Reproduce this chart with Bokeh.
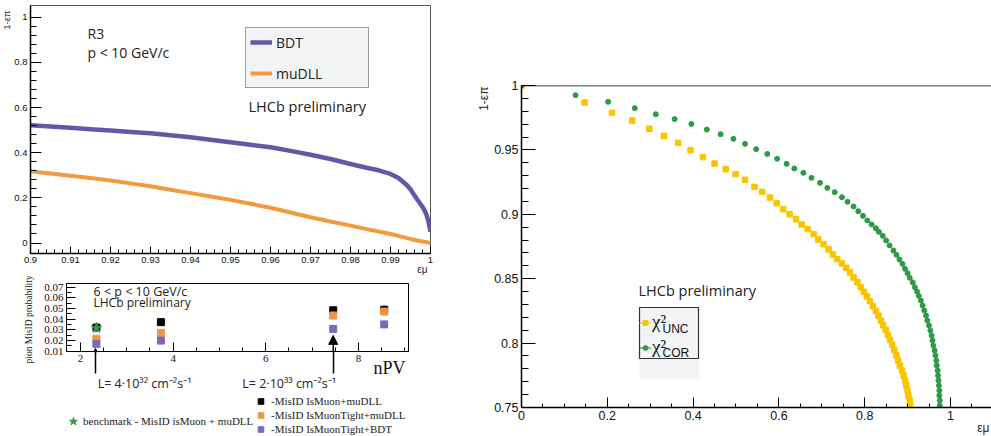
import numpy as np
from bokeh.plotting import figure
from bokeh.layouts import row, column
from bokeh.models import (Range1d, FixedTicker, CustomJSTickFormatter, Label, Legend,
                          LegendItem, BoxAnnotation, Span, Arrow, NormalHead, Title, LinearAxis)
from bokeh.embed import file_html
from bokeh.resources import INLINE

# ---------------- data: top-left panel (R3, p < 10 GeV/c) ----------------
eff_mu_bdt = [0.900, 0.905, 0.910, 0.915, 0.920, 0.925, 0.930, 0.935, 0.940, 0.945,
              0.950, 0.955, 0.960, 0.965, 0.970, 0.975, 0.980, 0.984, 0.987, 0.990,
              0.992, 0.994, 0.995, 0.996, 0.997, 0.998, 0.9985, 0.999, 0.9995, 1.000]
rej_bdt = [0.521, 0.516, 0.510, 0.504, 0.498, 0.492, 0.486, 0.477, 0.468, 0.457,
           0.446, 0.435, 0.424, 0.408, 0.391, 0.372, 0.350, 0.333, 0.322, 0.306,
           0.288, 0.258, 0.238, 0.210, 0.185, 0.160, 0.145, 0.125, 0.095, 0.050]
eff_mu_dll = [0.900, 0.905, 0.910, 0.915, 0.920, 0.925, 0.930, 0.935, 0.940, 0.945,
              0.950, 0.955, 0.960, 0.965, 0.970, 0.975, 0.980, 0.985, 0.990, 0.993,
              0.995, 0.997, 0.999, 1.000]
rej_dll = [0.318, 0.308, 0.298, 0.288, 0.277, 0.264, 0.251, 0.236, 0.221, 0.206,
           0.191, 0.174, 0.156, 0.135, 0.114, 0.095, 0.077, 0.058, 0.040, 0.027,
           0.018, 0.010, 0.004, 0.000]
x1_ticks = [0.9, 0.91, 0.92, 0.93, 0.94, 0.95, 0.96, 0.97, 0.98, 0.99, 1]
y1_ticks = [0, 0.2, 0.4, 0.6, 0.8, 1]

# ---------------- data: bottom-left panel (6 < p < 10 GeV/c) ----------------
npv = [2.344, 3.736, 7.455, 8.555]
mis_ismuon_dll = [0.0320, 0.0371, 0.0482, 0.0487]
mis_ismuon_dll_err = [0.0010, 0.0010, 0.0015, 0.0040]
mis_tight_dll = [0.0214, 0.0270, 0.0433, 0.0470]
mis_tight_dll_err = [0.0010, 0.0010, 0.0015, 0.0040]
mis_tight_bdt = [0.0168, 0.0198, 0.0308, 0.0350]
mis_tight_bdt_err = [0.0010, 0.0010, 0.0012, 0.0035]
bench_npv = [2.344]
bench_mis = [0.0317]
lumi_npv = [2.324, 7.455]
lumi_arrow_tip = [0.0125, 0.0247]
lumi_labels = ["L= 4\u00b710\u00b3\u00b2 cm\u207b\u00b2s\u207b\u00b9",
               "L= 2\u00b710\u00b3\u00b3 cm\u207b\u00b2s\u207b\u00b9"]
x2_ticks = [2, 4, 6, 8]
y2_ticks = [0.01, 0.02, 0.03, 0.04, 0.05, 0.06, 0.07]
legend2_labels = ["-MisID IsMuon+muDLL", "-MisID IsMuonTight+muDLL", "-MisID IsMuonTight+BDT"]
bench_label = "benchmark - MisID isMuon + muDLL"

# ---------------- data: right panel ----------------
eff_mu_unc = [0.0, 0.147, 0.211, 0.258, 0.298, 0.332, 0.365, 0.394, 0.423, 0.450, 0.476,
              0.499, 0.521, 0.543, 0.561, 0.579, 0.595, 0.610, 0.625, 0.640, 0.653,
              0.667, 0.681, 0.692, 0.704, 0.716, 0.726, 0.736, 0.747, 0.757, 0.766,
              0.774, 0.783, 0.791, 0.798, 0.805, 0.812, 0.819, 0.826, 0.832, 0.838,
              0.843, 0.849, 0.854, 0.859, 0.864, 0.869, 0.874, 0.878, 0.882, 0.887,
              0.891, 0.894, 0.897, 0.900, 0.902, 0.905, 0.906]
rej_unc = [1.0, 0.9868, 0.9788, 0.9728, 0.9664, 0.9609, 0.9555, 0.9498, 0.9444, 0.9394,
           0.9350, 0.9312, 0.9268, 0.9213, 0.9174, 0.9130, 0.9086, 0.9040, 0.9001,
           0.8962, 0.8921, 0.8885, 0.8846, 0.8804, 0.8768, 0.8727, 0.8688, 0.8652,
           0.8618, 0.8584, 0.8548, 0.8509, 0.8473, 0.8434, 0.8398, 0.8362, 0.8326,
           0.8287, 0.8250, 0.8212, 0.8175, 0.8139, 0.8103, 0.8064, 0.8025, 0.7987,
           0.7948, 0.7906, 0.7865, 0.7826, 0.7787, 0.7748, 0.7710, 0.7671, 0.7632,
           0.7593, 0.7554, 0.7515]
eff_mu_cor = [0.0, 0.126, 0.202, 0.264, 0.313, 0.357, 0.396, 0.432, 0.464, 0.494, 0.521,
              0.547, 0.573, 0.596, 0.618, 0.636, 0.657, 0.676, 0.696, 0.713, 0.730,
              0.747, 0.760, 0.774, 0.785, 0.796, 0.806, 0.816, 0.826, 0.833, 0.842,
              0.850, 0.858, 0.867, 0.874, 0.881, 0.888, 0.894, 0.900, 0.905, 0.912,
              0.917, 0.922, 0.926, 0.931, 0.935, 0.939, 0.943, 0.946, 0.950, 0.953,
              0.956, 0.958, 0.960, 0.963, 0.965, 0.967, 0.968, 0.970, 0.971, 0.972,
              0.973, 0.974, 0.974, 0.975, 0.975]
rej_cor = [1.0, 0.9925, 0.9873, 0.9824, 0.9777, 0.9739, 0.9702, 0.9658, 0.9622, 0.9586,
           0.9547, 0.9506, 0.9469, 0.9431, 0.9392, 0.9356, 0.9322, 0.9283, 0.9244,
           0.9205, 0.9172, 0.9133, 0.9097, 0.9061, 0.9024, 0.8988, 0.8952, 0.8921,
           0.8892, 0.8864, 0.8833, 0.8797, 0.8758, 0.8719, 0.8685, 0.8649, 0.8615,
           0.8577, 0.8543, 0.8507, 0.8471, 0.8434, 0.8401, 0.8367, 0.8331, 0.8292,
           0.8253, 0.8214, 0.8175, 0.8137, 0.8098, 0.8059, 0.8020, 0.7981, 0.7943,
           0.7904, 0.7865, 0.7826, 0.7787, 0.7748, 0.7710, 0.7671, 0.7632, 0.7593,
           0.7554, 0.7515]
x3_ticks = [0, 0.2, 0.4, 0.6, 0.8, 1]
y3_ticks = [0.75, 0.8, 0.85, 0.9, 0.95, 1]

# ---------------- styling helpers ----------------
FMT = CustomJSTickFormatter(code="return String(tick)")


def style_axis(ax, ticks, minor, font, size, tin, tmin, lw=1.5, color="#111"):
    ax.ticker = FixedTicker(ticks=ticks, minor_ticks=list(minor))
    ax.formatter = FMT
    ax.major_tick_in = tin
    ax.major_tick_out = 0
    ax.minor_tick_in = tmin
    ax.minor_tick_out = 0
    ax.axis_line_width = lw
    ax.axis_line_color = "black"
    ax.major_tick_line_color = "black"
    ax.minor_tick_line_color = "black"
    ax.major_tick_line_width = 1
    ax.minor_tick_line_width = 1
    ax.major_label_text_font = font
    ax.major_label_text_font_size = size
    ax.major_label_text_color = color
    ax.major_label_standoff = 3


def lab(p, x, y, text, font="Open Sans", size="14px", color="#222", align="left",
        baseline="middle", angle=0.0):
    p.add_layout(Label(x=x, y=y, text=text, text_font=font, text_font_size=size,
                       text_color=color, text_align=align, text_baseline=baseline,
                       angle=angle, level="overlay"))


def side_title(p, side, text, size, align="right", offset=0, standoff=0, valign="middle",
               font="Liberation Sans", color="#222"):
    p.add_layout(Title(text=text, align=align, offset=offset, standoff=standoff,
                       vertical_align=valign, text_font=font, text_font_size=size,
                       text_font_style="normal", text_color=color), side)


COMMON = dict(output_backend="svg", toolbar_location=None, frame_align=False)

# ================= top-left panel =================
p1 = figure(width=462, height=276, x_range=Range1d(0.9, 1.0), y_range=Range1d(-0.0465, 1.0518),
            min_border_left=30, min_border_right=32, min_border_top=5, min_border_bottom=23,
            **COMMON)
p1.grid.visible = False
p1.outline_line_color = "#555"
p1.outline_line_width = 1
style_axis(p1.xaxis[0], x1_ticks, np.arange(0.9, 1.0001, 0.002), "Liberation Sans", "9.5px", 7, 4)
style_axis(p1.yaxis[0], y1_ticks, np.arange(0.0, 1.0001, 0.04), "Liberation Sans", "9.5px", 11, 6)
side_title(p1, "left", "1-\u03b5\u03c0", "9.5px", align="right", offset=5, standoff=-2)
side_title(p1, "below", "\u03b5\u03bc", "10px", align="right", offset=3, standoff=-4, valign="top")

r_bdt = p1.line(eff_mu_bdt, rej_bdt, line_color="#6656a8", line_width=4.5)
r_dll = p1.line(eff_mu_dll, rej_dll, line_color="#f39a40", line_width=4)

leg1 = Legend(items=[LegendItem(label="BDT", renderers=[r_bdt]),
                     LegendItem(label="muDLL", renderers=[r_dll])],
              location=(215, 165), orientation="vertical",
              border_line_color="#444", border_line_width=1,
              background_fill_color="#f3f4f6", background_fill_alpha=1.0,
              label_text_font="Open Sans", label_text_font_size="14px",
              label_text_color="#222", glyph_width=22, glyph_height=20,
              label_height=20, label_width=88, label_standoff=4, spacing=11, padding=4,
              margin=0)
p1.add_layout(leg1)

lab(p1, 0.91425, 0.9278, "R3")
lab(p1, 0.91425, 0.8437, "p < 10 GeV/c")
lab(p1, 0.9545, 0.6045, "LHCb preliminary", size="14.5px")

# ================= bottom-left panel =================
p2 = figure(width=462, height=118, x_range=Range1d(1.698, 9.08), y_range=Range1d(0.00959, 0.0733),
            min_border_left=66, min_border_right=54, min_border_top=7, min_border_bottom=34,
            **COMMON)
p2.grid.visible = False
p2.outline_line_color = "black"
p2.outline_line_width = 1
style_axis(p2.xaxis[0], x2_ticks, np.arange(1.5, 9.01, 0.5), "Liberation Serif", "11px", 9, 4, lw=1)
style_axis(p2.yaxis[0], y2_ticks, np.arange(0.01, 0.0701, 0.005), "Liberation Serif", "11px", 9, 5, lw=1)
# y title: starts below the frame bottom and runs upward, as in the reference
side_title(p2, "left", "pion MisID probability", "9.5px", align="left", offset=-12,
           standoff=13, valign="middle", font="Liberation Serif", color="#222")

# "nPV" at the right end, below the axis
side_title(p2, "below", "nPV", "18px", align="right", offset=3, standoff=-17, valign="bottom",
           font="Liberation Serif", color="#111")
# luminosity annotations: labels + arrow shafts through a secondary axis
lumi_label_pos = [lumi_npv[0] + 1.06, lumi_npv[1] - 0.95]
lax = LinearAxis(ticker=FixedTicker(ticks=lumi_label_pos, minor_ticks=lumi_npv),
                 formatter=CustomJSTickFormatter(args=dict(labels=lumi_labels),
                                                 code="return labels[index]"),
                 axis_line_color=None, major_tick_line_color=None,
                 major_tick_in=0, major_tick_out=0,
                 minor_tick_in=18, minor_tick_out=4, minor_tick_line_width=1.5,
                 minor_tick_line_color="black", major_label_standoff=1,
                 major_label_text_font="Open Sans", major_label_text_font_size="12.5px",
                 major_label_text_color="#222")
p2.add_layout(lax, "below")

npv_a = np.array(npv)
for vals, errs, col in [(mis_ismuon_dll, mis_ismuon_dll_err, "black"),
                        (mis_tight_dll, mis_tight_dll_err, "#f0963f"),
                        (mis_tight_bdt, mis_tight_bdt_err, "#7a6ab8")]:
    v = np.array(vals)
    e = np.array(errs)
    p2.segment(npv_a, v - e, npv_a, v + e, line_color=col, line_width=1.5)

COL_BLACK, COL_ORANGE, COL_PURPLE, COL_STAR = "black", "#f0963f", "#7a6ab8", "#2f9a45"
p2.scatter(npv, mis_ismuon_dll, marker="square", size=7, color=COL_BLACK)
p2.scatter(npv, mis_tight_dll, marker="square", size=7, color=COL_ORANGE)
p2.scatter(npv, mis_tight_bdt, marker="square", size=7, color=COL_PURPLE)
p2.scatter(bench_npv, bench_mis, marker="star", size=11, color=COL_STAR)

for xs, yt in zip(lumi_npv, lumi_arrow_tip):
    p2.add_layout(Arrow(end=NormalHead(size=9, fill_color="black", line_color="black"),
                        x_start=xs, y_start=0.0080, x_end=xs, y_end=yt,
                        line_color="black", line_width=1.5))

lab(p2, 2.281, 0.0659, "6 < p < 10 GeV/c", size="12.5px")
lab(p2, 2.281, 0.0551, "LHCb preliminary", size="12px")

# ================= bottom-left legend strip =================
p2b = figure(width=462, height=42, x_range=Range1d(0.2735, 10.2454),
             y_range=Range1d(-0.05331, -0.01855), min_border=0,
             x_axis_location=None, y_axis_location=None, **COMMON)
p2b.grid.visible = False
p2b.outline_line_color = None
d_black = p2b.scatter([np.nan], [np.nan], marker="square", color=COL_BLACK)
d_orange = p2b.scatter([np.nan], [np.nan], marker="square", color=COL_ORANGE)
d_purple = p2b.scatter([np.nan], [np.nan], marker="square", color=COL_PURPLE)
d_star = p2b.scatter([np.nan], [np.nan], marker="star", color=COL_STAR)
leg2 = Legend(items=[LegendItem(label=legend2_labels[0], renderers=[d_black]),
                     LegendItem(label=legend2_labels[1], renderers=[d_orange]),
                     LegendItem(label=legend2_labels[2], renderers=[d_purple])],
              location=(253, 0), orientation="vertical",
              border_line_color=None, background_fill_alpha=0.0,
              label_text_font="Liberation Serif", label_text_font_size="11px",
              label_text_color="#222", glyph_width=15, glyph_height=14, label_height=14,
              label_standoff=3, spacing=0, padding=0, margin=0)
p2b.add_layout(leg2)
leg3 = Legend(items=[LegendItem(label=bench_label, renderers=[d_star])],
              location=(63, 5), orientation="vertical",
              border_line_color=None, background_fill_alpha=0.0,
              label_text_font="Liberation Serif", label_text_font_size="11px",
              label_text_color="#222", glyph_width=20, glyph_height=20, label_height=20,
              label_standoff=0, spacing=0, padding=0, margin=0)
p2b.add_layout(leg3)

# ================= right panel =================
p3 = figure(width=529, height=436, x_range=Range1d(0.0, 1.0956), y_range=Range1d(0.75, 1.0),
            min_border_left=59, min_border_right=0, min_border_top=85, min_border_bottom=29,
            **COMMON)
p3.grid.visible = False
p3.outline_line_color = None
style_axis(p3.xaxis[0], x3_ticks, np.arange(0.0, 1.0956, 0.05), "Liberation Sans", "12.5px", 10, 4)
style_axis(p3.yaxis[0], y3_ticks, np.arange(0.75, 1.0001, 0.01), "Liberation Sans", "12.5px", 14, 7)
p3.add_layout(Span(location=1.0, dimension="width", line_color="black", line_width=1.5))
side_title(p3, "left", "1-\u03b5\u03c0", "12px", align="right", offset=1, standoff=0)
side_title(p3, "below", "\u03b5\u03bc", "12px", align="right", offset=2, standoff=-4, valign="top")

r_unc = p3.scatter(eff_mu_unc, rej_unc, marker="square", size=5.5, color="#fbc400")
r_cor = p3.scatter(eff_mu_cor, rej_cor, marker="circle", size=5, color="#2e9a45")
l_unc = p3.line([np.nan], [np.nan], line_color="#fbc400", line_width=1.2)
l_cor = p3.line([np.nan], [np.nan], line_color="#2e9a45", line_width=1.2)

# legend frame (drawn as a box so the subscripts can sit on top of it)
p3.add_layout(BoxAnnotation(left=0.275, right=0.4126, bottom=0.7725, top=0.78804,
                            fill_color="#f2f3f5", fill_alpha=1.0, line_color=None))
p3.add_layout(BoxAnnotation(left=0.2751, right=0.4126, bottom=0.78804, top=0.82764,
                            fill_color="#f3f4f6", fill_alpha=1.0, line_color="#333",
                            line_alpha=1.0, line_width=1.2))
leg4 = Legend(items=[LegendItem(label="\u03c7\u00b2", renderers=[l_unc, r_unc]),
                     LegendItem(label="\u03c7\u00b2", renderers=[l_cor, r_cor])],
              location=(118, 49), orientation="vertical",
              border_line_color=None, background_fill_alpha=0.0,
              label_text_font="Liberation Serif", label_text_font_size="19px",
              label_text_color="#111", glyph_width=12, glyph_height=21, label_height=21,
              label_width=40, label_standoff=1, spacing=3, padding=3, margin=0)
p3.add_layout(leg4)
lab(p3, 0.3287, 0.8109, "UNC", font="Liberation Sans", size="12px", color="#111")
lab(p3, 0.3287, 0.7923, "COR", font="Liberation Sans", size="12px", color="#111")
lab(p3, 0.2727, 0.8408, "LHCb preliminary", size="14.5px")

layout = row(column(p1, p2, p2b), p3)
open("out.html", "w").write(file_html(layout, INLINE))
